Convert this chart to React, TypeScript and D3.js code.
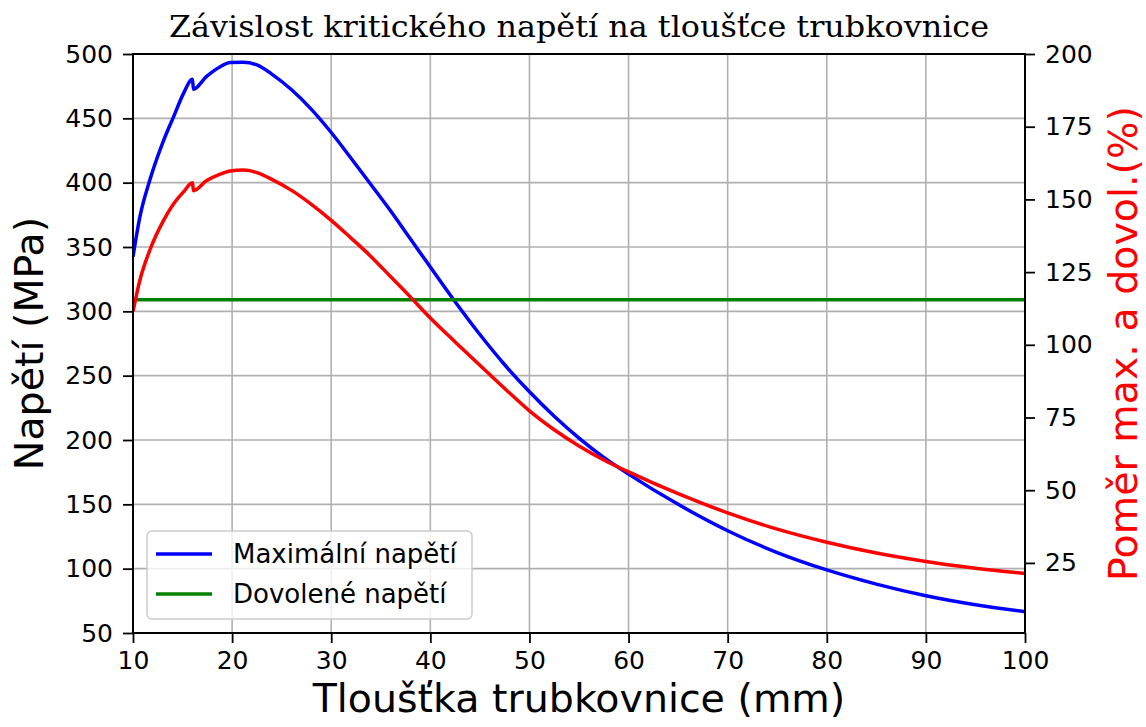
import React, { useEffect, useRef } from "react";
import * as d3 from "d3";

// tloušťka trubkovnice (mm)
const thickness = [10, 10.7, 11.7, 13.1, 14.1, 15.1, 16.0, 16.1, 17.4, 18.8, 19.8, 21.1, 22.5, 24, 26, 28, 30, 32, 34, 36, 38, 40, 42.5, 45, 47.5, 50, 52.5, 55, 57.5, 60, 65, 70, 75, 80, 85, 90, 95, 100];
// maximální napětí (MPa)
const maxStress = [342.5, 373.6, 402, 433, 451.3, 469.4, 480.3, 472.6, 482.4, 490.1, 493.3, 493.5, 491.5, 484.4, 472.2, 457, 439, 419, 398.6, 378, 356.2, 334.4, 307.5, 282, 258.5, 237.5, 218.5, 201.5, 186.5, 173.5, 150, 129.5, 112.5, 99, 88, 79, 72, 66.6];
// poměr max. a dovol. (%)
const ratio = [111.5, 122.3, 132.6, 142.9, 148.5, 152.6, 155.7, 153, 156.4, 158.7, 159.8, 160.1, 159.2, 156.9, 153.1, 148.3, 142.8, 136.7, 130.4, 123.4, 116.4, 109.2, 101, 93, 85, 77.3, 70.8, 65.2, 60.4, 56.3, 48.8, 42.2, 36.6, 32.1, 28.4, 25.5, 23.2, 21.4];
const allowedStress = 309;

const xTicks = [10, 20, 30, 40, 50, 60, 70, 80, 90, 100];
const leftTicks = [50, 100, 150, 200, 250, 300, 350, 400, 450, 500];
const rightTicks = [25, 50, 75, 100, 125, 150, 175, 200];

const App = () => {
  const ref = useRef<SVGSVGElement>(null);

  useEffect(() => {
    if (!ref.current) return;
    document.body.style.margin = "0";
    const svg = d3.select(ref.current);
    svg.selectAll("*").remove();

    const W = 1146, H = 727;
    const left = 133, right = 1025, top = 54, bottom = 633;
    const font = "DejaVu Sans, sans-serif";

    const x = d3.scaleLinear().domain([10, 100]).range([left, right]);
    const yL = d3.scaleLinear().domain([50, 500]).range([bottom, top]);
    const yR = d3.scaleLinear().domain([0.9, 200]).range([bottom, top]);

    svg.append("rect").attr("width", W).attr("height", H).attr("fill", "#fff");

    svg.append("defs").append("clipPath").attr("id", "plotClip")
      .append("rect")
      .attr("x", left).attr("y", top)
      .attr("width", right - left).attr("height", bottom - top);

    // grid
    const grid = svg.append("g").attr("stroke", "#b0b0b0").attr("stroke-width", 1.6);
    grid.selectAll("line.v").data(xTicks).enter().append("line")
      .attr("x1", d => x(d)).attr("x2", d => x(d))
      .attr("y1", top).attr("y2", bottom);
    grid.selectAll("line.h").data(leftTicks).enter().append("line")
      .attr("x1", left).attr("x2", right)
      .attr("y1", d => yL(d)).attr("y2", d => yL(d));

    const plot = svg.append("g").attr("clip-path", "url(#plotClip)");

    const blueLine = d3.line<number>()
      .x((d, i) => x(thickness[i]))
      .y(d => yL(d))
      .curve(d3.curveMonotoneX);
    plot.append("path").datum(maxStress)
      .attr("fill", "none").attr("stroke", "#0000ff").attr("stroke-width", 3.5)
      .attr("stroke-linejoin", "round")
      .attr("d", blueLine);

    plot.append("line")
      .attr("x1", x(10)).attr("x2", x(100))
      .attr("y1", yL(allowedStress)).attr("y2", yL(allowedStress))
      .attr("stroke", "#008000").attr("stroke-width", 3.5);

    const redLine = d3.line<number>()
      .x((d, i) => x(thickness[i]))
      .y(d => yR(d))
      .curve(d3.curveMonotoneX);
    plot.append("path").datum(ratio)
      .attr("fill", "none").attr("stroke", "#ff0000").attr("stroke-width", 3.5)
      .attr("stroke-linejoin", "round")
      .attr("d", redLine);

    // axes
    const styleAxis = (g: d3.Selection<SVGGElement, unknown, null, undefined>) => {
      g.select(".domain").remove();
      g.selectAll("line").attr("stroke", "#000").attr("stroke-width", 1.8);
      g.selectAll("text").attr("fill", "#000").style("font-family", font).style("font-size", "25px");
    };

    svg.append("g").attr("transform", `translate(0,${bottom})`)
      .call(d3.axisBottom(x).tickValues(xTicks).tickSize(10).tickPadding(8).tickFormat(d3.format("d")))
      .call(styleAxis)
      .selectAll("text").attr("dy", "0.71em");

    svg.append("g").attr("transform", `translate(${left},0)`)
      .call(d3.axisLeft(yL).tickValues(leftTicks).tickSize(10).tickPadding(10).tickFormat(d3.format("d")))
      .call(styleAxis);

    svg.append("g").attr("transform", `translate(${right},0)`)
      .call(d3.axisRight(yR).tickValues(rightTicks).tickSize(10).tickPadding(10).tickFormat(d3.format("d")))
      .call(styleAxis);

    // frame
    svg.append("rect")
      .attr("x", left).attr("y", top)
      .attr("width", right - left).attr("height", bottom - top)
      .attr("fill", "none").attr("stroke", "#000").attr("stroke-width", 2);

    // legend
    const lg = svg.append("g");
    lg.append("rect")
      .attr("x", 147).attr("y", 531).attr("width", 325).attr("height", 88).attr("rx", 5)
      .attr("fill", "#fff").attr("fill-opacity", 0.8)
      .attr("stroke", "#cccccc").attr("stroke-width", 1.5);
    const items = [
      { label: "Maximální napětí", color: "#0000ff" },
      { label: "Dovolené napětí", color: "#008000" },
    ];
    items.forEach((it, i) => {
      const cy = 554 + i * 40;
      lg.append("line")
        .attr("x1", 156).attr("x2", 212).attr("y1", cy).attr("y2", cy)
        .attr("stroke", it.color).attr("stroke-width", 3.5);
      lg.append("text")
        .attr("x", 233).attr("y", cy + 9)
        .style("font-family", font).style("font-size", "26px")
        .attr("fill", "#000")
        .text(it.label);
    });

    // labels
    svg.append("text")
      .attr("x", (left + right) / 2).attr("y", 37)
      .attr("text-anchor", "middle")
      .attr("textLength", 820).attr("lengthAdjust", "spacingAndGlyphs")
      .style("font-family", "DejaVu Serif, serif").style("font-size", "29px")
      .attr("fill", "#000")
      .text("Závislost kritického napětí na tloušťce trubkovnice");

    svg.append("text")
      .attr("x", (left + right) / 2).attr("y", 712)
      .attr("text-anchor", "middle")
      .style("font-family", font).style("font-size", "39.5px")
      .attr("fill", "#000")
      .text("Tloušťka trubkovnice (mm)");

    svg.append("text")
      .attr("transform", `translate(43,${(top + bottom) / 2}) rotate(-90)`)
      .attr("text-anchor", "middle")
      .style("font-family", font).style("font-size", "39.5px")
      .attr("fill", "#000")
      .text("Napětí (MPa)");

    svg.append("text")
      .attr("transform", `translate(1137,${(top + bottom) / 2}) rotate(-90)`)
      .attr("text-anchor", "middle")
      .style("font-family", font).style("font-size", "39.5px")
      .attr("fill", "#ff0000")
      .text("Poměr max. a dovol.(%)");
  }, []);

  return <svg ref={ref} width={1146} height={727} style={{ display: "block" }} />;
};

export default App;
